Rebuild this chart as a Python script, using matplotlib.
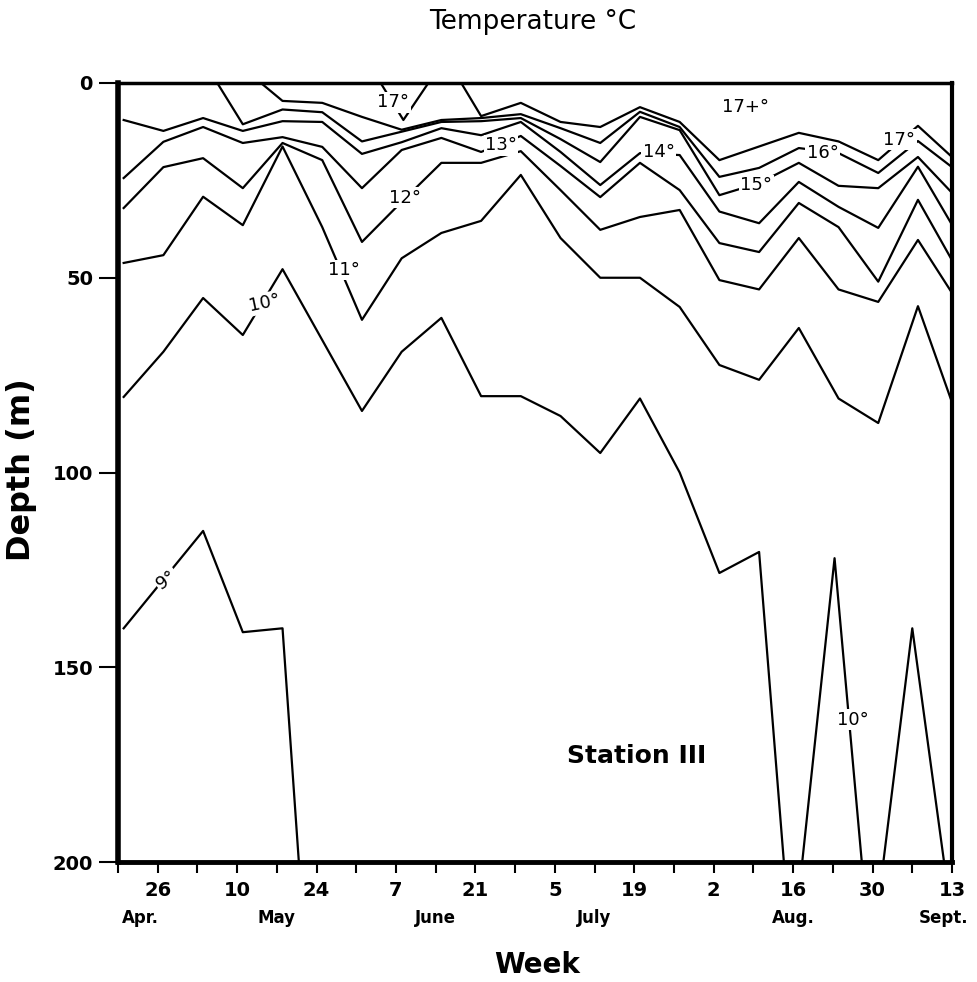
import numpy as np
import matplotlib.pyplot as plt

nan = np.nan

# sampling days counted from 19 April; last entry is the right edge (13 Sept)
sample_day = [1, 8, 15, 22, 29, 36, 43, 50, 57, 64, 71, 78, 85, 92, 99, 106,
              113, 120, 127, 134, 141, 147]

# isotherm depths (m) at each sample day
t9 = [140, 127.5, 115, 141, 140, 286] + [nan] * 16
t10 = [80.6, 69, 55.2, 64.7, 47.8, 66, 84.2, 69, 60.3, 80.4, 80.4, 85.5,
       95, 81, 100, 125.8, 120.4, 248, nan, nan, nan, nan]
t11 = [46.2, 44.2, 29.2, 36.5, 16.3, 37, 60.8, 45, 38.5, 35.4, 23.6, 39.8,
       50, 50, 57.5, 72.4, 76.2, 62.9, 81, 87.3, 57.3, 82]
t12 = [32.1, 21.6, 19.3, 27, 15.4, 19.8, 40.8, 30.5, 20.5, 20.5, 17.5, 27.5,
       37.7, 34.4, 32.6, 50.6, 53, 39.8, 53, 56.2, 40.3, 53.9]
t13 = [24.4, 15.1, 11.3, 15.4, 13.9, 16.4, 27, 17.2, 14.1, 17.7, 13.6, 21.3,
       29.3, 20.5, 27.5, 41.1, 43.4, 30.8, 37, 51, 30, 45.5]
t14 = [9.5, 12.3, 9, 12.3, 9.8, 10, 18.2, 15.2, 11.6, 13.4, 10, 17.7,
       26.2, 18, 18.5, 33, 36, 25.4, 31.8, 37.2, 21.5, 36.4]
t15 = [nan, nan, nan, 10.6, 6.8, 7.5, 15, 12.5, 10, 9.8, 9, 14.4,
       20.3, 8.7, 12.1, 28.8, 25.7, 20.5, 26.4, 27, 19, 28.2]
t16 = [nan, nan, nan, nan, 4.6, 5.1, 8.7, 12, 9.5, 9, 8, 11.6,
       15.4, 7.4, 11.3, 24.1, 21.8, 16.7, 18, 23.1, 14.9, 21.6]
t17 = [nan] * 9 + [8.5, 5.1, 10, 11.3, 6.2, 10, 19.8, 16.3, 12.8, 15,
                   19.8, 11, 19]

# day where an isotherm leaves the surface before its first sample
surface_day = {15: 17.5, 16: 25.2, 17: 60.5}

# 17 degree pocket in early June
pocket_day = [46.3, 50.3, 54.7]
pocket_depth = [0, 9.5, 0]

# 10 degree tongues in late August / September
tongue_day = [120.6, 126.3, 131.1, nan, 134.9, 140.0, 145.6]
tongue_depth = [200, 122, 200, nan, 200, 140, 200]

week_day = list(range(0, 148, 7))
week_label = ['', '26', '', '10', '', '24', '', '7', '', '21', '', '5', '',
              '19', '', '2', '', '16', '', '30', '', '13']
month_name = ['Apr.', 'May', 'June', 'July', 'Aug.', 'Sept.']
month_day = [3.9, 28, 56, 84, 119, 145.6]

fig = plt.figure(figsize=(9.78, 9.82), dpi=100)
ax = fig.add_axes([118 / 978, 1 - 862 / 982, 834 / 978, 779 / 982])

lw = 1.6
for temp, depth in [(9, t9), (10, t10), (11, t11), (12, t12), (13, t13),
                    (14, t14), (15, t15), (16, t16), (17, t17)]:
    x = list(sample_day)
    y = list(depth)
    if temp in surface_day:
        first = next(i for i, v in enumerate(y) if not np.isnan(v))
        x.insert(first, surface_day[temp])
        y.insert(first, 0)
    ax.plot(x, y, color='black', lw=lw)
ax.plot(pocket_day, pocket_depth, color='black', lw=lw)
ax.plot(tongue_day, tongue_depth, color='black', lw=lw)

# isotherm labels
box = dict(facecolor='white', edgecolor='none', pad=1)
labels = [('9°', 8.6, 127.6, 35), ('10°', 25.9, 56.5, 12), ('11°', 39.8, 48, 0),
          ('12°', 50.5, 29.5, 0), ('13°', 67.5, 16, 0), ('14°', 95.3, 17.7, 0),
          ('15°', 112.5, 26.2, 0), ('16°', 124.2, 18, 0), ('17°', 137.7, 14.6, 0),
          ('17°', 48.5, 4.9, 0), ('17+°', 110.6, 6.2, 0), ('10°', 129.5, 163.5, 0)]
for txt, xd, yd, rot in labels:
    ax.text(xd, yd, txt, fontsize=13, ha='center', va='center', rotation=rot,
            bbox=box, zorder=3)

ax.text(91.5, 172.8, 'Station III', fontsize=18, fontweight='bold',
        ha='center', va='center')

ax.set_xlim(0.9, 147)
ax.set_ylim(200, 0)

ax.set_yticks([0, 50, 100, 150, 200])
ax.set_yticklabels(['0', '50', '100', '150', '200'], fontsize=14,
                   fontweight='bold')
ax.tick_params(axis='y', direction='out', length=14, width=1.5, pad=4)

ax.set_xticks(week_day)
ax.set_xticklabels(week_label, fontsize=14, fontweight='bold')
ax.tick_params(axis='x', direction='out', length=8, width=1.5, pad=6)

for name, d in zip(month_name, month_day):
    ax.text(d, 214.5, name, fontsize=12, fontweight='bold', ha='center',
            va='center', clip_on=False)

for side, w in [('left', 4), ('bottom', 3.5), ('top', 2.5), ('right', 3)]:
    ax.spines[side].set_linewidth(w)

fig.text(533 / 978, 1 - 22 / 982, 'Temperature °C', fontsize=19,
         ha='center', va='center')
fig.text(22 / 978, 1 - 470 / 982, 'Depth (m)', fontsize=23, fontweight='bold',
         rotation=90, ha='center', va='center')
fig.text(537 / 978, 1 - 965 / 982, 'Week', fontsize=20, fontweight='bold',
         ha='center', va='center')

fig.savefig('out.png', dpi=100)
